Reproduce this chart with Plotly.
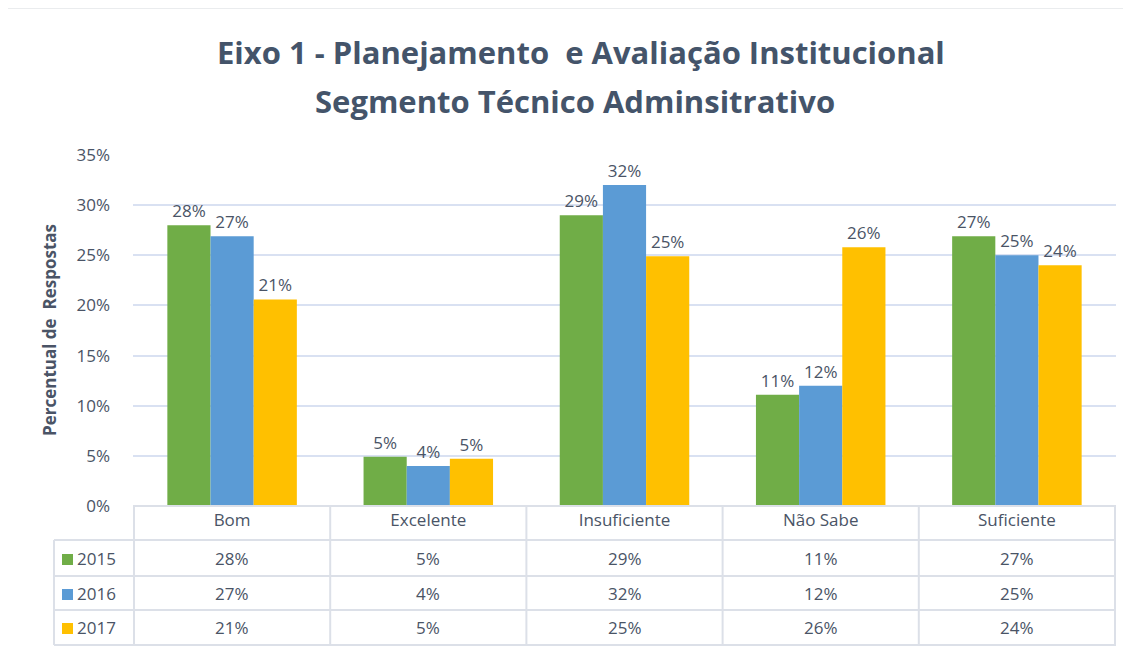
import plotly.graph_objects as go

# dados
categorias = ["Bom", "Excelente", "Insuficiente", "Não Sabe", "Suficiente"]
anos = ["2015", "2016", "2017"]
valores_2015 = [0.280, 0.049, 0.290, 0.111, 0.269]
valores_2016 = [0.269, 0.040, 0.320, 0.120, 0.250]
valores_2017 = [0.206, 0.047, 0.249, 0.258, 0.240]
cores = ["#70AD47", "#5B9BD5", "#FFC000"]
series = [valores_2015, valores_2016, valores_2017]

FONTE = "Open Sans"
COR_TEXTO = "#4A5466"
COR_LINHA = "#DCE0E8"

# a página tem margem de 8px, as medidas abaixo são da imagem de referência
OFF = 8
W_FIG, H_FIG = 1131, 652
L, R, T, B = 133 - OFF, 1116 - OFF, 155 - OFF, 506 - OFF
W, H = R - L, B - T


def px_x(px):
    return (px - OFF - L) / W


def px_y(py):
    return (B - (py - OFF)) / H


fig = go.Figure()
for ano, vals, cor in zip(anos, series, cores):
    fig.add_trace(go.Bar(
        x=categorias, y=vals, name=ano,
        marker=dict(color=cor, line=dict(width=0)),
        texttemplate="%{y:.0%}", textposition="outside",
        textfont=dict(family=FONTE, size=17, color=COR_TEXTO),
        cliponaxis=False,
    ))

shapes = []
# moldura do gráfico
shapes.append(dict(type="rect", xref="paper", yref="paper",
                   x0=px_x(7), x1=px_x(1150), y0=px_y(8), y1=px_y(670),
                   line=dict(color="#D6D9DE", width=1)))

# tabela de dados
linhas_y = [540, 576, 610, 645]
shapes.append(dict(type="line", xref="paper", yref="paper",
                   x0=0, x1=1, y0=0, y1=0,
                   line=dict(color=COR_LINHA, width=2)))
for py in linhas_y:
    shapes.append(dict(type="line", xref="paper", yref="paper",
                       x0=px_x(54), x1=1, y0=px_y(py), y1=px_y(py),
                       line=dict(color=COR_LINHA, width=2)))
for k in range(len(categorias) + 1):
    shapes.append(dict(type="line", xref="x", yref="paper",
                       x0=k - 0.5, x1=k - 0.5, y0=0, y1=px_y(645),
                       line=dict(color=COR_LINHA, width=2)))
shapes.append(dict(type="line", xref="paper", yref="paper",
                   x0=px_x(54), x1=px_x(54), y0=px_y(540), y1=px_y(645),
                   line=dict(color=COR_LINHA, width=2)))

annotations = []
centros_y = [558, 593, 627]
for i, (ano, vals, cor) in enumerate(zip(anos, series, cores)):
    cy = centros_y[i]
    shapes.append(dict(type="rect", xref="paper", yref="paper",
                       x0=px_x(62), x1=px_x(73), y0=px_y(cy - 4), y1=px_y(cy + 7),
                       fillcolor=cor, line=dict(width=0)))
    annotations.append(dict(text=ano, xref="paper", yref="paper",
                            x=px_x(75), y=px_y(cy), xanchor="left", yanchor="middle",
                            showarrow=False,
                            font=dict(family=FONTE, size=17, color=COR_TEXTO)))
    for cat, v in zip(categorias, vals):
        annotations.append(dict(text=f"{round(v * 100):.0f}%", xref="x", yref="paper",
                                x=cat, y=px_y(cy), xanchor="center", yanchor="middle",
                                showarrow=False,
                                font=dict(family=FONTE, size=17, color=COR_TEXTO)))

# títulos
annotations.append(dict(text="<b>Eixo 1 - Planejamento  e Avaliação Institucional</b>",
                        xref="paper", yref="paper", x=px_x(581), y=px_y(52),
                        xanchor="center", yanchor="middle", showarrow=False,
                        font=dict(family=FONTE, size=31, color="#44546A")))
annotations.append(dict(text="<b>Segmento Técnico Adminsitrativo</b>",
                        xref="paper", yref="paper", x=px_x(575), y=px_y(101),
                        xanchor="center", yanchor="middle", showarrow=False,
                        font=dict(family=FONTE, size=31, color="#44546A")))
annotations.append(dict(text="<b>Percentual de  Respostas</b>",
                        xref="paper", yref="paper", x=px_x(49), y=px_y(330),
                        xanchor="center", yanchor="middle", textangle=-90,
                        showarrow=False,
                        font=dict(family=FONTE, size=17, color=COR_TEXTO)))

fig.update_layout(
    width=W_FIG, height=H_FIG,
    margin=dict(l=L, r=W_FIG - R, t=T, b=H_FIG - B, autoexpand=False),
    paper_bgcolor="white", plot_bgcolor="white",
    barmode="group", bargap=0.34, bargroupgap=0,
    showlegend=False,
    shapes=shapes, annotations=annotations,
    font=dict(family=FONTE, color=COR_TEXTO),
)
fig.update_xaxes(
    showgrid=False, showline=False, zeroline=False,
    tickfont=dict(family=FONTE, size=17, color=COR_TEXTO),
    ticks="", ticklabelstandoff=2,
)
fig.update_yaxes(
    range=[0, 0.35], dtick=0.05, tickformat=".0%",
    showgrid=True, gridcolor="#D9E1F2", gridwidth=2,
    zeroline=False, showline=False, ticks="",
    tickfont=dict(family=FONTE, size=17, color=COR_TEXTO),
    ticklabelstandoff=22,
)

fig.write_html("out.html")
